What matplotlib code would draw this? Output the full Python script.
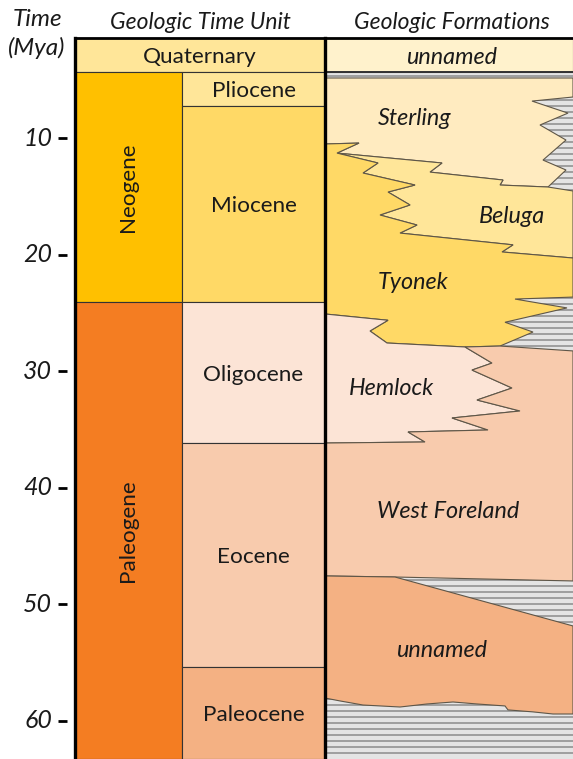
import matplotlib
matplotlib.use("Agg")
import matplotlib.pyplot as plt
from matplotlib.patches import Polygon, Rectangle

plt.rcParams["font.family"] = ["Lato", "DejaVu Sans"]

# layout columns (horizontal units), vertical axis is time in Mya
X_AXIS, X_SPLIT, X_FORM, X_RIGHT = 75, 182, 325, 573
Y_TOP, Y_BOTTOM = -1.84, 63.26
TABLE_TOP = 1.42
QUAT_BASE = 4.34
LABEL_DROP = 0.2  # nudge cell labels down a little

time_ticks = [10, 20, 30, 40, 50, 60]

periods = ["Neogene", "Paleogene"]
period_top = [4.34, 24.06]
period_base = [24.06, 63.26]
period_colors = ["#FFC000", "#F47D22"]

epochs = ["Pliocene", "Miocene", "Oligocene", "Eocene", "Paleocene"]
epoch_top = [4.34, 7.26, 24.06, 36.16, 55.37]
epoch_base = [7.26, 24.06, 36.16, 55.37, 63.26]
epoch_colors = ["#FFE699", "#FFD966", "#FCE4D6", "#F8CBAD", "#F4B183"]

# formation outlines as (x, Mya) vertices
top_unnamed = [(325, 1.42), (573, 1.42), (573, 4.34), (325, 4.34)]
sterling = [(325, 4.85), (573, 4.85), (573, 6.48), (532, 6.83), (568, 7.86), (540, 8.88),
            (566, 10.17), (543, 11.89), (566, 12.74), (548, 14.2), (500, 14.03), (503, 13.6),
            (430, 12.92), (442, 12.14), (337, 11.29), (359, 10.43), (325, 10.51)]
beluga = [(337, 11.29), (442, 12.14), (430, 12.92), (503, 13.6), (500, 14.03), (548, 14.2),
          (573, 14.54), (573, 20.29), (502, 19.77), (513, 19.16), (400, 18.15), (417, 17.46),
          (380, 16.6), (410, 15.74), (388, 14.63), (415, 14.03), (363, 13.0), (378, 12.14)]
tyonek = [(325, 10.51), (359, 10.43), (337, 11.29), (378, 12.14), (363, 13.0), (415, 14.03),
          (388, 14.63), (410, 15.74), (380, 16.6), (417, 17.46), (400, 18.15), (513, 19.16),
          (502, 19.77), (573, 20.29), (573, 23.64), (515, 23.81), (567, 24.57), (505, 25.8),
          (533, 26.64), (500, 27.84), (465, 27.92), (387, 27.58), (370, 26.55), (388, 25.63),
          (325, 25.09)]
hemlock = [(325, 25.09), (388, 25.63), (370, 26.55), (387, 27.58), (465, 27.92), (492, 29.3),
           (472, 29.9), (512, 31.44), (477, 32.47), (520, 33.41), (452, 34.01), (488, 35.04),
           (408, 35.21), (425, 36.07), (325, 36.16)]
west_foreland = [(465, 27.92), (500, 27.84), (573, 28.26), (573, 47.99), (395, 47.65),
                 (325, 47.56), (325, 36.16), (425, 36.07), (408, 35.21), (488, 35.04),
                 (452, 34.01), (520, 33.41), (477, 32.47), (512, 31.44), (472, 29.9), (492, 29.3)]
lower_unnamed = [(325, 47.56), (395, 47.65), (573, 51.85), (573, 59.4), (553, 59.4),
                 (533, 59.22), (508, 59.05), (505, 58.71), (477, 58.54), (453, 58.37),
                 (427, 58.54), (400, 58.8), (363, 58.63), (340, 58.28), (325, 58.03)]

formations = [top_unnamed, sterling, beluga, tyonek, hemlock, west_foreland, lower_unnamed]
formation_colors = ["#FFF2CC", "#FFEBC0", "#FFE699", "#FFD966", "#FCE4D6", "#F8CBAD", "#F4B183"]
formation_labels = ["unnamed", "Sterling", "Beluga", "Tyonek", "Hemlock", "West Foreland", "unnamed"]
label_pos = [(452, 3.1), (415, 8.35), (512, 16.75), (413, 22.4), (391, 31.5), (448, 42.0), (442, 53.95)]

TXT = "#1A1A1A"

fig = plt.figure(figsize=(5.73, 7.59), dpi=100)
ax = fig.add_axes([0, 0, 1, 1])
ax.set_xlim(0, 573)
ax.set_ylim(Y_BOTTOM, Y_TOP)
ax.axis("off")

# hatched "missing section" background of the formations column
ax.add_patch(Rectangle((X_FORM, QUAT_BASE), X_RIGHT - X_FORM, Y_BOTTOM - QUAT_BASE,
                       facecolor="#E4E4E4", edgecolor="none", zorder=1))
y = QUAT_BASE + 0.3
while y < Y_BOTTOM:
    ax.plot([X_FORM, X_RIGHT], [y, y], color="#8C8C8C", lw=1.1, zorder=1.5)
    y += 6 / 11.66

for verts, col in zip(formations, formation_colors):
    ax.add_patch(Polygon(verts, closed=True, facecolor=col, edgecolor="#5E5648",
                         lw=0.8, zorder=2))
for (lx, ly), name in zip(label_pos, formation_labels):
    ax.text(lx, ly, name, ha="center", va="center", style="italic", fontsize=16.8,
            color=TXT, zorder=5)

# time-unit columns
ax.add_patch(Rectangle((X_AXIS, TABLE_TOP), X_FORM - X_AXIS, QUAT_BASE - TABLE_TOP,
                       facecolor="#FFE699", edgecolor="#333333", lw=0.8, zorder=2))
ax.text((X_AXIS + X_FORM) / 2, (TABLE_TOP + QUAT_BASE) / 2 + LABEL_DROP, "Quaternary",
        ha="center", va="center", fontsize=16.2, color=TXT, zorder=5)
for name, t0, t1, col in zip(periods, period_top, period_base, period_colors):
    ax.add_patch(Rectangle((X_AXIS, t0), X_SPLIT - X_AXIS, t1 - t0, facecolor=col,
                           edgecolor="#333333", lw=0.8, zorder=2))
    ax.text((X_AXIS + X_SPLIT) / 2, (t0 + t1) / 2, name, ha="center", va="center",
            rotation=90, fontsize=16.2, color=TXT, zorder=5)
for name, t0, t1, col in zip(epochs, epoch_top, epoch_base, epoch_colors):
    ax.add_patch(Rectangle((X_SPLIT, t0), X_FORM - X_SPLIT, t1 - t0, facecolor=col,
                           edgecolor="#333333", lw=0.8, zorder=2))
    ax.text((X_SPLIT + X_FORM) / 2, (t0 + t1) / 2 + LABEL_DROP, name, ha="center",
            va="center", fontsize=16.2, color=TXT, zorder=5)

# frame lines
ax.plot([X_AXIS, X_RIGHT], [TABLE_TOP, TABLE_TOP], color="black", lw=2.0, zorder=6)
ax.plot([X_FORM, X_RIGHT], [QUAT_BASE, QUAT_BASE], color="#333333", lw=1.4, zorder=6)
ax.plot([X_AXIS, X_AXIS], [TABLE_TOP, Y_BOTTOM], color="black", lw=2.4, zorder=6)
ax.plot([X_FORM, X_FORM], [TABLE_TOP, Y_BOTTOM], color="black", lw=2.4, zorder=6)

# time axis
for t in time_ticks:
    ax.plot([58, 67], [t, t], color="black", lw=2.0, solid_capstyle="butt", zorder=6)
    ax.text(52, t, str(t), ha="right", va="center", style="italic", fontsize=18,
            color=TXT)

ax.text(37, -0.15, "Time", ha="center", va="center", style="italic", fontsize=17.5, color=TXT)
ax.text(37, 2.3, "(Mya)", ha="center", va="center", style="italic", fontsize=17.5, color=TXT)
ax.text(200, 0.05, "Geologic Time Unit", ha="center", va="center", style="italic",
        fontsize=16.5, color=TXT)
ax.text(452, 0.05, "Geologic Formations", ha="center", va="center", style="italic",
        fontsize=16.5, color=TXT)

fig.savefig("out.png", dpi=100)
